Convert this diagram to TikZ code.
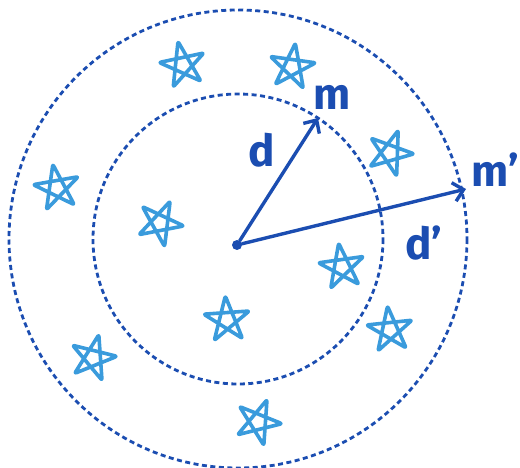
\documentclass[tikz,border=0pt]{standalone}
\usepackage{fontspec}
\setsansfont{Fira Sans}
\usetikzlibrary{arrows.meta}
\definecolor{inkblue}{HTML}{1B4DB1}
\definecolor{starblue}{HTML}{3A9BDC}
\tikzset{
  ring/.style={inkblue, line width=2.8pt, dash pattern=on 5pt off 3.5pt},
  radius arrow/.style={inkblue, line width=3.4pt, line cap=round,
    -{Straight Barb[length=10pt,width=19pt,line width=3.4pt]}},
  hand label/.style={inkblue, font=\sffamily\bfseries\fontsize{44}{48}\selectfont, inner sep=0pt},
  sketchstar/.pic={
    \draw[starblue, line width=3.6pt, rounded corners=2pt, line join=round]
      (-90:24) -- (54:24) -- (198:24) -- (342:24) -- (126:24) -- cycle;
  }
}
\begin{document}
\begin{tikzpicture}[x=1pt, y=-1pt]
        \useasboundingbox (0,0) rectangle (520,468);
        % Define node positions
        \coordinate (ctr) at (238,239);
        \node[circle, fill=inkblue, inner sep=0pt, minimum size=10pt] (O) at (237,245) {};
        \coordinate (mtip) at (318,118); \coordinate (mptip) at (466,189);
        \node[hand label] (m) at (332,97) {m};
        \node[hand label] (d) at (262,150) {d};
        \node[hand label, anchor=east] (mp) at (519,170) {m'};
        \node[hand label] (dp) at (424,243) {d'};

        % Draw the two shells
        \draw[ring] (ctr) circle[radius=145];
        \draw[ring] (ctr) circle[radius=229];

        % Scattered stars
        \foreach \sx/\sy/\sr in {183/65/12, 292/67/-8, 390/153/-20, 57/188/10,
          160/223/-25, 342/267/8, 227/320/4, 390/330/6, 93/358/-14, 258/422/-22}
          \pic[rotate=\sr] at (\sx,\sy) {sketchstar};

        % Draw arrows
        \draw[radius arrow] (O) -- (mtip);
        \draw[radius arrow] (O) -- (mptip);
\end{tikzpicture}
\end{document}
